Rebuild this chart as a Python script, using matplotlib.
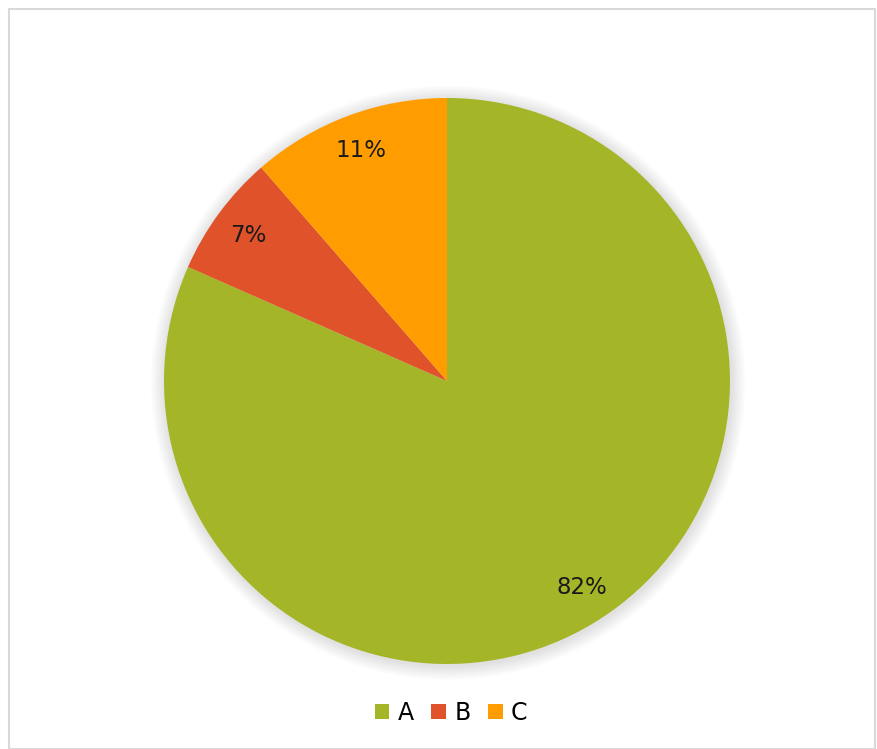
import matplotlib.pyplot as plt
from matplotlib.patches import Rectangle, Circle

# ------------------------------
# Data
# ------------------------------
labels = ["A", "B", "C"]
values = [81.6, 7.0, 11.4]
colors = ["#A5B528", "#E0532A", "#FF9D00"]

W, H = 877, 749
fig = plt.figure(figsize=(W / 100, H / 100), dpi=100)
fig.patch.set_facecolor("white")

# chart frame
fig.patches.append(Rectangle((9 / W, 0), (875 - 9) / W, 1 - 9 / H, transform=fig.transFigure,
                             fill=False, edgecolor="#D9D9D9", linewidth=1.5))

# pie axes: center (447, 381), radius 283 px
cx, cy, r = 447, 381, 283
ax = fig.add_axes([(cx - r) / W, 1 - (cy + r) / H, 2 * r / W, 2 * r / H])

# soft shadow around the pie
for i in range(10):
    ax.add_patch(Circle((0.004, -0.006), 1.0 + 0.005 * (i + 1), color="#000000", alpha=0.012,
                        linewidth=0, zorder=0, clip_on=False))

wedges, texts, autotexts = ax.pie(values, colors=colors, startangle=90, counterclock=False,
                                  autopct="%.0f%%", pctdistance=0.87, radius=1.0,
                                  textprops={"fontsize": 16.5, "color": "#1a1a1a"},
                                  wedgeprops={"linewidth": 0, "zorder": 1})
for w in wedges:
    w.set_clip_on(False)
ax.set_xlim(-1, 1)
ax.set_ylim(-1, 1)
ax.set_aspect("equal")
ax.axis("off")

fig.legend(wedges, labels, loc="center", bbox_to_anchor=(451 / W, 1 - 713 / H), ncol=3,
           frameon=False, fontsize=17, handlelength=0.62, handleheight=0.62, handletextpad=0.35,
           columnspacing=0.75)

fig.savefig("out.png", dpi=100)
